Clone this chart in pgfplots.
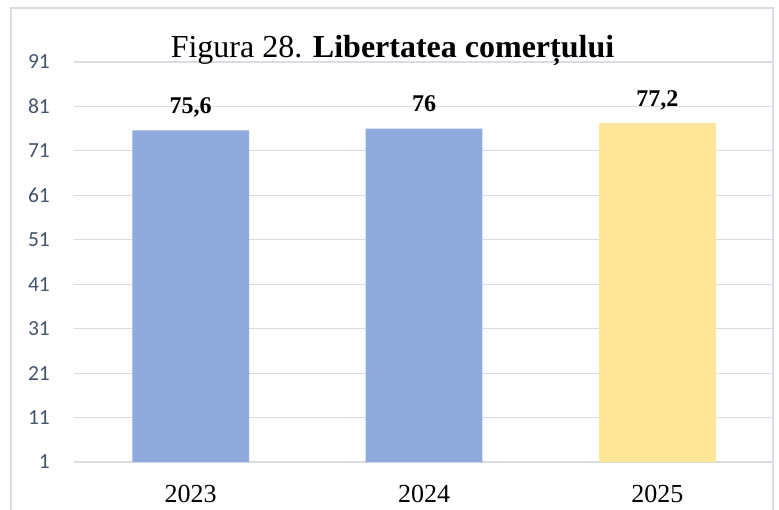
\documentclass[border=0pt]{standalone}
\usepackage{pgfplots}
\pgfplotsset{compat=1.18}
\usepackage{fontspec}
\setmainfont{Liberation Serif}
\newfontfamily\mycalfont{Carlito}[Scale=2.15]
\definecolor{barblue}{HTML}{8FAADC}
\definecolor{baryellow}{HTML}{FFE699}
\definecolor{gridc}{HTML}{D9DDE3}
\definecolor{tickc}{HTML}{44546A}
\begin{document}
\begin{tikzpicture}
\begin{axis}[
  scale only axis,
  width=700pt, height=400pt,
  xmin=-0.5, xmax=2.5,
  ymin=1, ymax=91,
  ytick={1,11,21,31,41,51,61,71,81,91},
  yticklabels={1,11,21,31,41,51,61,71,81,91},
  xtick={0,1,2},
  xticklabels={2023,2024,2025},
  axis line style={draw=none},
  major tick length=0pt,
  ymajorgrids,
  grid style={draw=gridc, line width=1.2pt},
  y tick label style={font=\mycalfont, text=tickc, anchor=east, inner sep=0pt, xshift=-24pt},
  xticklabel style={font=\fontsize{26}{30}\selectfont, anchor=base, inner sep=0pt, yshift=-40pt},
  ybar, bar width=116.7pt, bar shift=0pt,
  nodes near coords={\pgfmathprintnumber[assume math mode=true, use comma, fixed, precision=1]{\pgfplotspointmeta}},
  every node near coord/.append style={font=\bfseries\fontsize{24}{28}\selectfont, anchor=base, inner sep=0pt, yshift=17pt},
]
\addplot[draw=none, fill=barblue] coordinates {(0,75.6) (1,76)};
\addplot[draw=none, fill=baryellow] coordinates {(2,77.2)};
\end{axis}
\node[anchor=base, inner sep=0pt, font=\fontsize{32}{36}\selectfont] at (318.5pt,404pt) {Figura 28. \textbf{Libertatea comerțului}};
\draw[gridc, line width=1.5pt] (-63pt,-60pt) -- (-63pt,454pt) -- (699pt,454pt) -- (699pt,-60pt);
\pgfresetboundingbox
\useasboundingbox (-74pt,-47pt) rectangle (705pt,462pt);
\end{tikzpicture}
\end{document}
